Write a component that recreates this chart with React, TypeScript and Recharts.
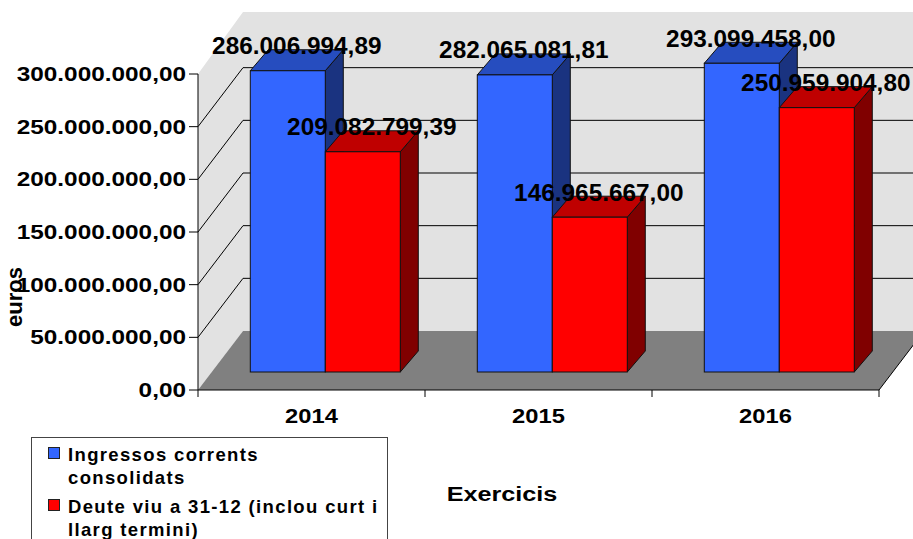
import { BarChart, Bar, XAxis, YAxis, CartesianGrid, Legend, LabelList, usePlotArea } from "recharts";

const years = ["2014", "2015", "2016"];
const ingressos = [286006994.89, 282065081.81, 293099458.0];
const deute = [209082799.39, 146965667.0, 250959904.8];
const yTicks = [0, 50000000, 100000000, 150000000, 200000000, 250000000, 300000000];
const seriesNames = ["Ingressos corrents\nconsolidats", "Deute viu a 31-12 (inclou curt i\nllarg termini)"];

const data = years.map((year, i) => ({ year, ingressos: ingressos[i], deute: deute[i] }));

// depth of the fake 3D box
const WALL_DX = 45;
const WALL_DY = -59;
const BAR_SHIFT_X = 13.7;
const BAR_SHIFT_Y = -18;
const BAR_DX = 18;
const BAR_DY = -21;

const FONT = "'Liberation Sans', Arial, sans-serif";

const fmt = (v: number) =>
  v.toLocaleString("de-DE", { minimumFractionDigits: 2, maximumFractionDigits: 2 });

// the reference text is wider than the font, so stretch it sideways
function WideText({ x, y, size, sx, anchor = "middle", children }: any) {
  return (
    <text
      transform={`translate(${x},${y}) scale(${sx},1)`}
      textAnchor={anchor}
      fontFamily={FONT}
      fontWeight="bold"
      fontSize={size}
      fill="#000"
    >
      {children}
    </text>
  );
}

function Walls() {
  const p = usePlotArea();
  if (!p) return null;
  const left = p.x;
  const right = p.x + p.width;
  const top = p.y;
  const bottom = p.y + p.height;
  const step = p.width / years.length;
  return (
    <g>
      <polygon
        points={`${left},${bottom} ${left},${top} ${left + WALL_DX},${top + WALL_DY - 3} ${right + WALL_DX},${top + WALL_DY - 3} ${right + WALL_DX},${bottom + WALL_DY} ${left + WALL_DX},${bottom + WALL_DY}`}
        fill="#e2e2e2"
      />
      <polygon
        points={`${left},${bottom} ${right},${bottom} ${right + WALL_DX},${bottom + WALL_DY} ${left + WALL_DX},${bottom + WALL_DY}`}
        fill="#808080"
      />
      <line x1={right} y1={bottom} x2={right + WALL_DX} y2={bottom + WALL_DY} stroke="#000" />
      {Array.from({ length: years.length + 1 }, (_, i) => (
        <line key={i} x1={left + i * step} y1={bottom} x2={left + i * step} y2={bottom + 7} stroke="#000" />
      ))}
    </g>
  );
}

function GridLine({ x1, y1, x2, index }: any) {
  // nothing is drawn on the floor or on the top edge of the wall
  if (index === 0 || index === yTicks.length - 1) return <g key={index} />;
  return (
    <polyline
      key={index}
      points={`${x1},${y1} ${x1 + WALL_DX},${y1 + WALL_DY} ${x2 + WALL_DX},${y1 + WALL_DY}`}
      fill="none"
      stroke="#000"
      strokeWidth={1}
    />
  );
}

function Box({ x, y, width, height, fill, topFill, sideFill }: any) {
  const l = x + BAR_SHIFT_X;
  const r = l + width;
  const t = y + BAR_SHIFT_Y;
  const b = t + height;
  const edge = { stroke: "#111", strokeWidth: 1 };
  return (
    <g>
      <polygon
        points={`${r},${t} ${r + BAR_DX},${t + BAR_DY} ${r + BAR_DX},${b + BAR_DY} ${r},${b}`}
        fill={sideFill}
        {...edge}
      />
      <polygon
        points={`${l},${t} ${l + BAR_DX},${t + BAR_DY} ${r + BAR_DX},${t + BAR_DY} ${r},${t}`}
        fill={topFill}
        {...edge}
      />
      <rect x={l} y={t} width={width} height={height} fill={fill} {...edge} />
    </g>
  );
}

function BarValue({ x, y, width, value }: any) {
  return (
    <WideText x={x + width / 2 + BAR_SHIFT_X + 9} y={y + BAR_SHIFT_Y - 16.5} size={23} sx={1.06}>
      {fmt(value)}
    </WideText>
  );
}

function YTick({ x, y, payload }: any) {
  return (
    <WideText x={x} y={y + 7} size={21} sx={1.16} anchor="end">
      {fmt(payload.value)}
    </WideText>
  );
}

function XTick({ x, payload }: any) {
  return (
    <WideText x={x} y={423} size={21} sx={1.13}>
      {payload.value}
    </WideText>
  );
}

function LegendBox({ payload }: any) {
  return (
    <div
      style={{
        boxSizing: "border-box",
        width: 357,
        height: 140,
        border: "1px solid #444",
        background: "#fff",
        padding: "5px 2px 0 16px",
        fontFamily: FONT,
        fontWeight: "bold",
        fontSize: 18.5,
        letterSpacing: 1.35,
        lineHeight: "23px",
        color: "#000",
      }}
    >
      {(payload || []).map((item: any) => (
        <div key={item.value} style={{ display: "flex", marginBottom: 6 }}>
          <span
            style={{
              flex: "none",
              boxSizing: "border-box",
              width: 12,
              height: 12,
              marginTop: 4,
              marginRight: 8,
              background: item.color,
              border: "1px solid #222",
            }}
          />
          <span style={{ whiteSpace: "pre-line" }}>{item.value}</span>
        </div>
      ))}
    </div>
  );
}

export default function App() {
  return (
    <div style={{ position: "absolute", left: 0, top: 0, width: 913, height: 539, overflow: "hidden" }}>
      <BarChart
        width={913}
        height={539}
        data={data}
        margin={{ top: 74, right: 34, bottom: 0, left: 0 }}
        barGap={0}
        barCategoryGap="17%"
      >
        <Walls />
        <CartesianGrid vertical={false} horizontal={GridLine as any} zIndex={50} />
        <XAxis
          dataKey="year"
          height={149}
          tickLine={false}
          axisLine={{ stroke: "#000" }}
          tick={XTick as any}
          interval={0}
        />
        <YAxis
          width={198}
          domain={[0, 300000000]}
          ticks={yTicks}
          tickSize={9}
          tickMargin={3}
          axisLine={{ stroke: "#000" }}
          tickLine={{ stroke: "#000" }}
          tick={YTick as any}
          interval={0}
        />
        <Bar
          dataKey="ingressos"
          name={seriesNames[0]}
          fill="#3366ff"
          isAnimationActive={false}
          shape={(props: any) => <Box {...props} topFill="#264dbf" sideFill="#1a3380" />}
        >
          <LabelList dataKey="ingressos" content={BarValue as any} />
        </Bar>
        <Bar
          dataKey="deute"
          name={seriesNames[1]}
          fill="#ff0000"
          isAnimationActive={false}
          shape={(props: any) => <Box {...props} topFill="#bf0000" sideFill="#800000" />}
        >
          <LabelList dataKey="deute" content={BarValue as any} />
        </Bar>
        <Legend
          layout="horizontal"
          verticalAlign="middle"
          itemSorter={null as any}
          content={LegendBox as any}
          wrapperStyle={{ left: 31, top: 437, width: 357, height: 102, overflow: "hidden" }}
        />
        <text
          transform="translate(22,297) rotate(-90)"
          textAnchor="middle"
          fontFamily={FONT}
          fontWeight="bold"
          fontSize={22}
          fill="#000"
        >
          euros
        </text>
        <WideText x={502} y={501} size={21} sx={1.2}>
          Exercicis
        </WideText>
      </BarChart>
    </div>
  );
}
